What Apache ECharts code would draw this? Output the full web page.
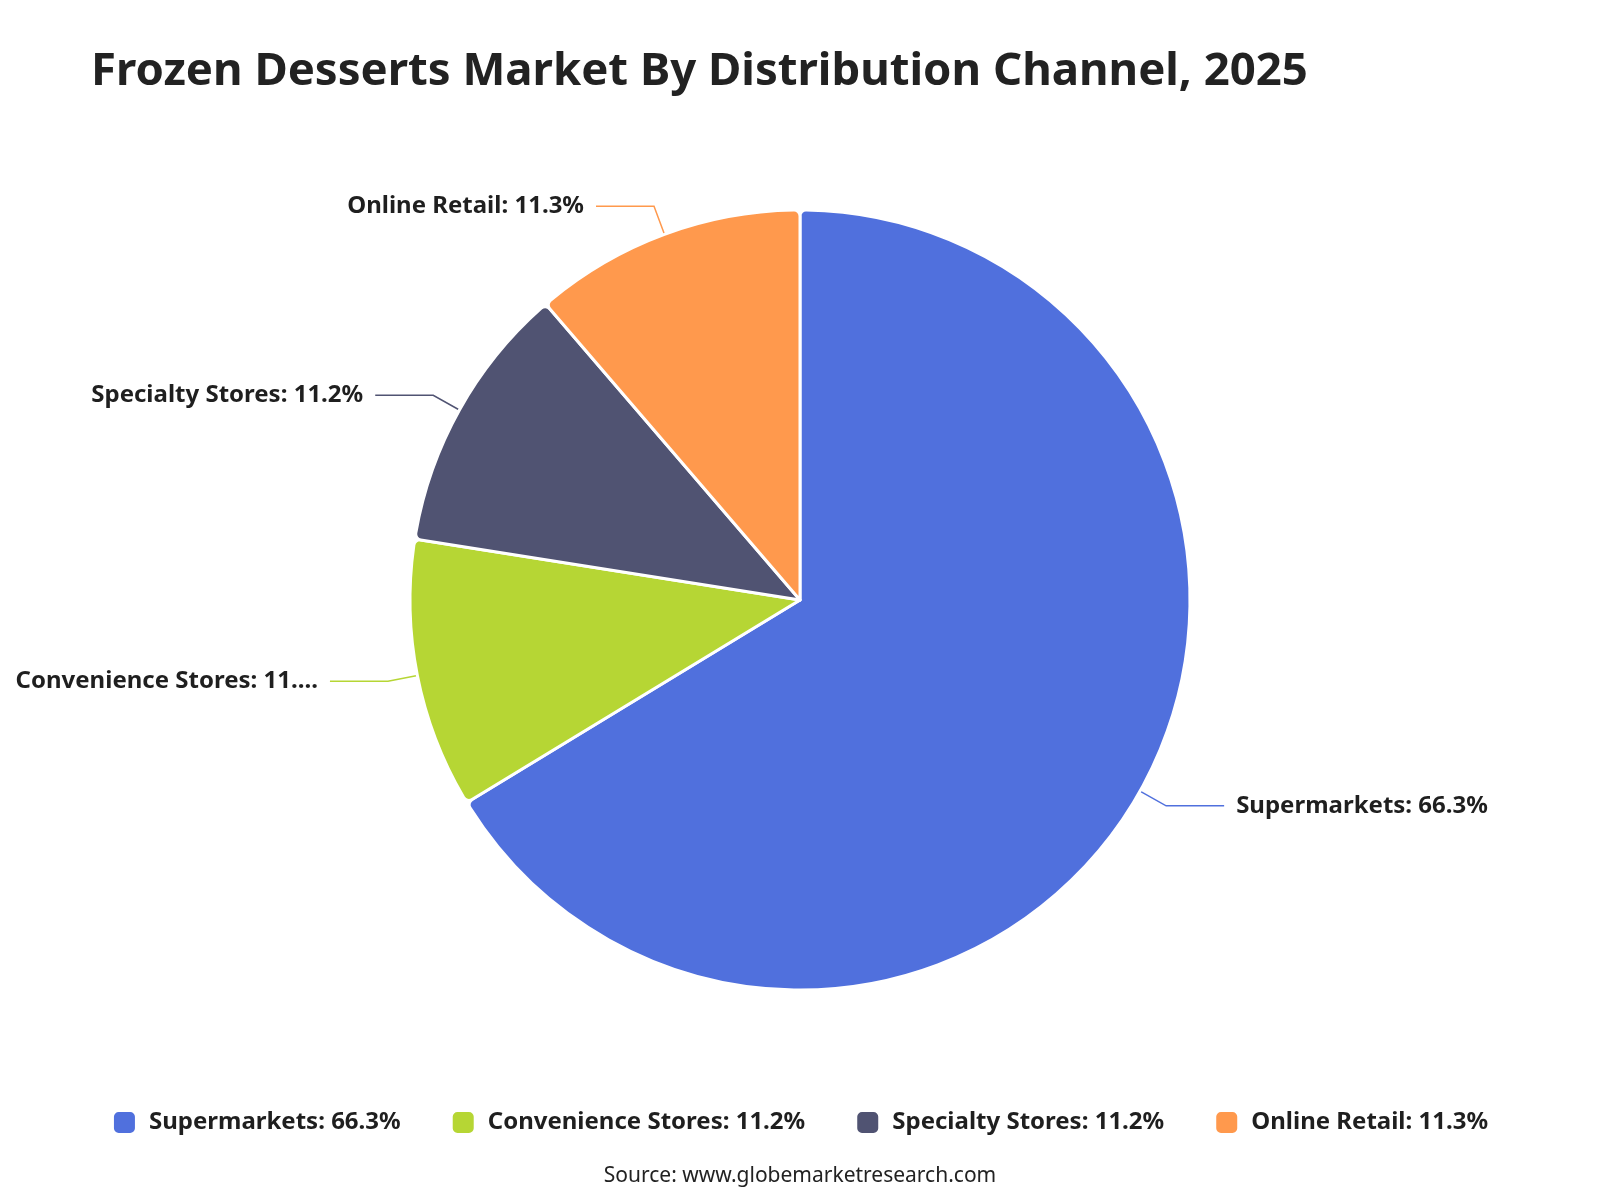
<!DOCTYPE html>
<html>
<head>
<meta charset="utf-8">
<script src="https://cdn.jsdelivr.net/npm/echarts@6/dist/echarts.min.js"></script>
<style>
  html, body { margin: 0; padding: 0; background: #fff; }
  #main { width: 1600px; height: 1200px; }
</style>
</head>
<body>
<div id="main"></div>
<script>
var channels = ['Supermarkets', 'Convenience Stores', 'Specialty Stores', 'Online Retail']
var shares = [66.3, 11.2, 11.2, 11.3]

var chart = echarts.init(document.getElementById('main'))

var pieData = channels.map(function (name, i) {
  return { name: name, value: shares[i] }
})

var option = {
  textStyle: { fontFamily: 'Noto Sans' },
  title: {
    text: 'Frozen Desserts Market By Distribution Channel, 2025',
    left: 86,
    top: 44,
    textStyle: { fontSize: 45.5, fontWeight: 'bold', color: '#222' }
  },
  legend: {
    bottom: 60,
    left: 'center',
    itemWidth: 23,
    itemHeight: 23,
    itemGap: 50,
    icon: 'roundRect',
    formatter: function (name) {
      return name + ': ' + shares[channels.indexOf(name)] + '%'
    },
    textStyle: { fontSize: 24, fontWeight: 'bold', color: '#1f1f1f', padding: [0, 0, 0, 8] }
  },
  graphic: [{
    type: 'text',
    left: 'center',
    top: 1166,
    style: {
      text: 'Source: www.globemarketresearch.com',
      fontSize: 21,
      fontFamily: 'Noto Sans',
      fill: '#222'
    }
  }],
  series: [{
    type: 'pie',
    radius: '65%',
    center: ['50%', '50%'],
    startAngle: 90,
    data: pieData,
    itemStyle: { borderColor: '#fff', borderWidth: 3, borderRadius: 6 },
    label: {
      formatter: '{b}: {c}%',
      fontSize: 24,
      fontWeight: 'bold',
      color: '#1f1f1f',
      distanceToLabelLine: 12
    },
    labelLine: { length: 30, length2: 58, lineStyle: { width: 1.5 } }
  }]
}

chart.setOption(option)
</script>
</body>
</html>
